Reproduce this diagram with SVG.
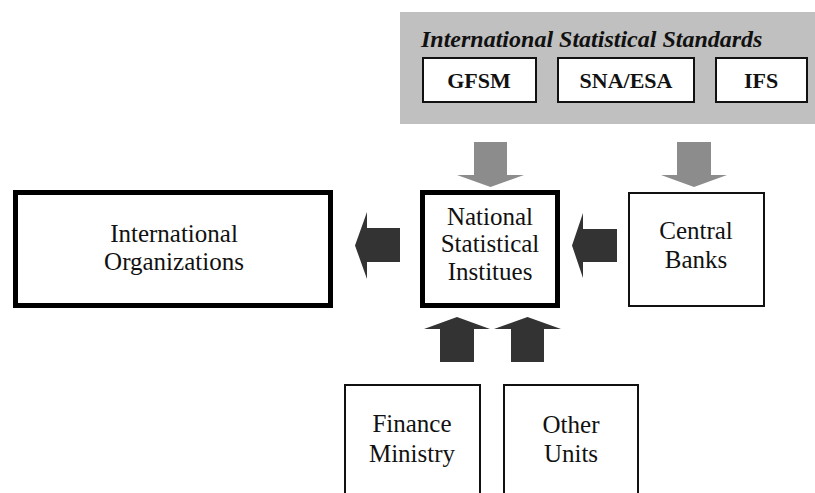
<svg xmlns="http://www.w3.org/2000/svg" width="815" height="493" viewBox="0 0 815 493">
  <style>
    .thin { fill: #ffffff; stroke: #111111; stroke-width: 2; }
    .thick { fill: #ffffff; stroke: #000000; stroke-width: 5; }
    .lbl { font-family: "Liberation Serif", "Times New Roman", serif; font-size: 25px; fill: #111111; text-anchor: middle; }
    .std { font-family: "Liberation Serif", "Times New Roman", serif; font-size: 22px; font-weight: bold; fill: #111111; text-anchor: middle; }
    .title { font-family: "Liberation Serif", "Times New Roman", serif; font-size: 24px; font-weight: bold; font-style: italic; fill: #111111; }
    .grey { fill: #8c8c8c; }
    .dark { fill: #333333; }
  </style>
  <rect width="815" height="493" fill="#ffffff"/>

  <!-- standards panel -->
  <g id="standards">
    <rect x="400" y="12" width="415" height="112" fill="#c0c0c0"/>
    <text class="title" x="421" y="47">International Statistical Standards</text>
    <g id="gfsm">
      <rect class="thin" x="423" y="58" width="113" height="44"/>
      <text class="std" x="479" y="88">GFSM</text>
    </g>
    <g id="sna-esa">
      <rect class="thin" x="558" y="58" width="136" height="44"/>
      <text class="std" x="626" y="88">SNA/ESA</text>
    </g>
    <g id="ifs">
      <rect class="thin" x="716" y="58" width="91" height="44"/>
      <text class="std" x="761" y="88">IFS</text>
    </g>
  </g>

  <g id="intl-orgs">
    <rect class="thick" x="15.5" y="192.5" width="315" height="113"/>
    <text class="lbl" x="174" y="242">International</text>
    <text class="lbl" x="174" y="270">Organizations</text>
  </g>

  <g id="nsi">
    <rect class="thick" x="422.5" y="192.5" width="135" height="113"/>
    <text class="lbl" x="490" y="225">National</text>
    <text class="lbl" x="490" y="252">Statistical</text>
    <text class="lbl" x="490" y="280">Institues</text>
  </g>

  <g id="central-banks">
    <rect class="thin" x="629" y="193" width="135" height="113"/>
    <text class="lbl" x="696" y="239">Central</text>
    <text class="lbl" x="696" y="268">Banks</text>
  </g>

  <g id="finance-ministry">
    <rect class="thin" x="345" y="385" width="135" height="120"/>
    <text class="lbl" x="412" y="432">Finance</text>
    <text class="lbl" x="412" y="462">Ministry</text>
  </g>

  <g id="other-units">
    <rect class="thin" x="504" y="385" width="134" height="120"/>
    <text class="lbl" x="571" y="433">Other</text>
    <text class="lbl" x="571" y="462">Units</text>
  </g>

  <g id="connectors">
    <!-- standards feeding down -->
    <polygon class="grey" points="474,142 507,142 507,175 524,175 490.5,187 457,175 474,175"/>
    <polygon class="grey" points="677,142 711,142 711,175 727,175 694,187 661,175 677,175"/>
    <!-- flows to the left -->
    <polygon class="dark" points="400,228 400,262 367,262 367,279 355,245.5 367,212 367,228"/>
    <polygon class="dark" points="617,229 617,262 583,262 583,278 572,245.5 583,213 583,229"/>
    <!-- flows upward -->
    <polygon class="dark" points="440,362 474,362 474,329 490,329 457,317 424,329 440,329"/>
    <polygon class="dark" points="511,362 544,362 544,329 561,329 527.5,317 494,329 511,329"/>
  </g>
</svg>
